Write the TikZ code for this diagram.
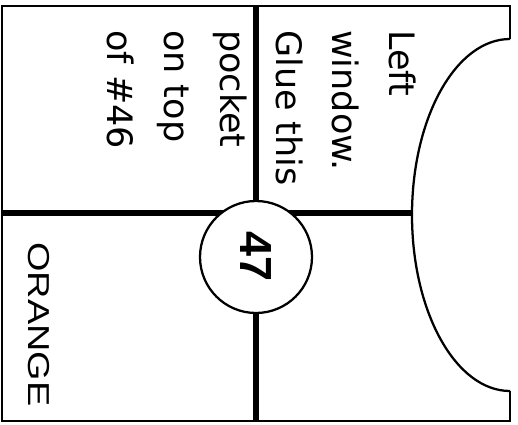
\documentclass[tikz,border=0pt]{standalone}
\usepackage{fontspec}
\newfontfamily\notefont{DejaVu Sans}
\newfontfamily\labelfont{Liberation Sans}
\tikzset{
  edge/.style={line width=1.7pt},
  fold/.style={line width=4pt},
}

\begin{document}
\begin{tikzpicture}[x=0.75pt,y=-0.75pt]
  \useasboundingbox (0,0) rectangle (518,425);
  \coordinate (tl) at (2,6);
  \coordinate (tr) at (510,6);
  \coordinate (bl) at (2,421);
  \coordinate (br) at (510,421);
  \coordinate (wtop) at (510,39);
  \coordinate (wmid) at (412,213);
  \coordinate (wbot) at (510,391);
  \coordinate (ftop) at (256,6);
  \coordinate (fbot) at (256,421);
  \coordinate (fleft) at (2,213);

  \draw[edge] (wtop) -- (tr) -- (tl) -- (bl) -- (br) -- (wbot);
  \draw[edge] (wtop) arc[start angle=-90, end angle=-270, x radius=98, y radius=176];
  \draw[fold] (ftop) -- (fbot);
  \draw[fold] (fleft) -- (wmid);

  \node[circle, draw, edge, fill=white, minimum size=84pt, inner sep=0pt, rotate=-90,
        font=\labelfont\bfseries\fontsize{33.75}{40}\selectfont] (num) at (256,257) {47};
  \node[anchor=north west, inner sep=0pt, rotate=-90, align=left,
        font=\notefont\fontsize{26.25}{42.2}\selectfont] (note) at (416,30)
        {Left\\window.\\Glue this\\pocket\\on top\\of \#46};
  \node[anchor=base west, inner sep=0pt, rotate=-90,
        font=\labelfont\fontsize{22.7}{28}\selectfont] (colour) at (28,242)
        {\scalebox{1.25}[1]{ORANGE}};
\end{tikzpicture}
\end{document}
